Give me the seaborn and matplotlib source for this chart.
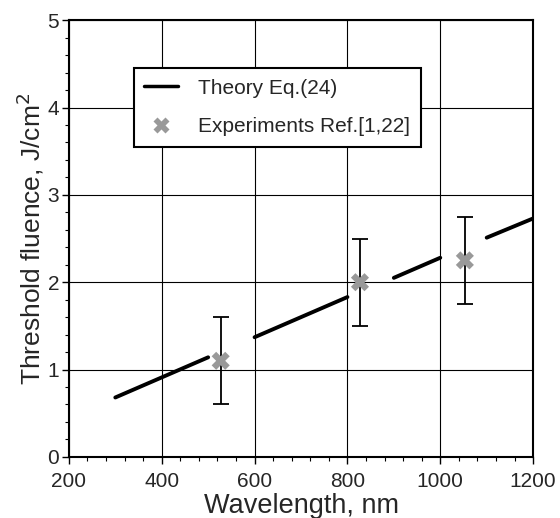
import numpy as np
import pandas as pd
import seaborn as sns
import matplotlib.pyplot as plt
from matplotlib.lines import Line2D
from matplotlib.ticker import MultipleLocator

# theory curve, drawn in broken segments
theory_wl = [300, 500, 600, 800, 900, 1000, 1100, 1200]
theory_f = [0.68, 1.14, 1.37, 1.83, 2.05, 2.28, 2.51, 2.73]
theory_seg = [0, 0, 1, 1, 2, 2, 3, 3]

# experiments
exp_wl = [527, 827, 1053]
exp_f = [1.1, 2.0, 2.25]
exp_err = [0.5, 0.5, 0.5]

sns.set_theme(style="ticks")
plt.rcParams['font.family'] = ['Liberation Sans', 'DejaVu Sans']

theory = pd.DataFrame({"wl": theory_wl, "f": theory_f, "seg": theory_seg})
exp = pd.DataFrame({"wl": exp_wl, "f": exp_f, "err": exp_err})

fig = plt.figure(figsize=(5.6, 5.18), dpi=100)
ax = fig.add_axes([0.123, 0.118, 0.829, 0.843])

sns.lineplot(data=theory, x="wl", y="f", units="seg", estimator=None,
             color="black", linewidth=2.8, ax=ax, legend=False)
ax.errorbar(exp.wl, exp.f, yerr=exp.err, fmt="none", ecolor="black",
            elinewidth=1.3, capsize=5.5, capthick=1.3, zorder=3)
sns.scatterplot(data=exp, x="wl", y="f", marker="X", s=170, color="#999999",
                edgecolor="none", ax=ax, zorder=4, legend=False)

ax.set_xlim(200, 1200)
ax.set_ylim(0, 5)
ax.xaxis.set_major_locator(MultipleLocator(200))
ax.xaxis.set_minor_locator(MultipleLocator(40))
ax.yaxis.set_major_locator(MultipleLocator(1))
ax.yaxis.set_minor_locator(MultipleLocator(0.2))
ax.grid(True, which="major", color="black", linewidth=0.8)
for s in ax.spines.values():
    s.set_linewidth(1.5)
    s.set_color("black")
ax.tick_params(which="major", length=5, width=1, color="black", labelsize=15, pad=2)
ax.tick_params(axis="x", which="major", pad=6)
ax.tick_params(which="minor", length=3, width=0.8, color="black")
ax.set_xlabel("Wavelength, nm", fontsize=19.5, labelpad=1)
ax.set_ylabel("Threshold fluence, J/cm$^2$", fontsize=19, labelpad=1)

handles = [
    Line2D([], [], color="black", linewidth=2.5),
    Line2D([], [], color="#999999", marker="X", markersize=11, linestyle="none",
           markeredgecolor="none"),
]
leg = ax.legend(handles, ["Theory Eq.(24)", "Experiments Ref.[1,22]"],
                loc="upper left", bbox_to_anchor=(0.140, 0.890), borderaxespad=0,
                fontsize=15, frameon=True, fancybox=False, framealpha=1,
                edgecolor="black", handlelength=1.6, handletextpad=1.0,
                labelspacing=0.95, borderpad=0.5)
leg.get_frame().set_linewidth(1.5)

fig.savefig("out.png", dpi=100)
